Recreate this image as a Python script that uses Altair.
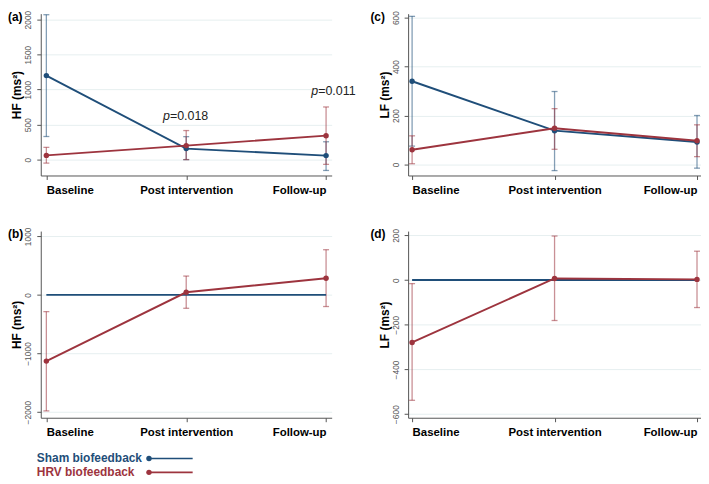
import altair as alt
import pandas as pd

stages = ["Baseline", "Post intervention", "Follow-up"]
groups = ["Sham biofeedback", "HRV biofeedback"]
colors = ["#1f4e79", "#9d343e"]

# (a) HF, ms2
a_sham = [1200, 157, 57]
a_sham_lo = [330, 0, -155]
a_sham_hi = [2070, 328, 255]
a_hrv = [60, 200, 342]
a_hrv_lo = [-50, 0, -68]
a_hrv_hi = [175, 415, 752]

# (c) LF, ms2
c_sham = [340, 138, 92]
c_sham_lo = [75, -25, -15]
c_sham_hi = [605, 298, 200]
c_hrv = [60, 148, 97]
c_hrv_lo = [3, 62, 32]
c_hrv_hi = [117, 228, 162]

# (b) HF difference vs sham
b_sham = [0, 0, 0]
b_hrv = [-1130, 45, 285]
b_hrv_lo = [-1980, -228, -198]
b_hrv_hi = [-285, 322, 772]

# (d) LF difference vs sham
d_sham = [0, 0, 0]
d_hrv = [-279, 7, 3]
d_hrv_lo = [-538, -181, -123]
d_hrv_hi = [-16, 197, 129]

p_text = ["=0.018", "=0.011"]
p_x = [0.99, 2.05]
p_y = [624, 979]

FONT = "Liberation Sans"
label_expr = "datum.value == 0 ? '%s' : datum.value == 1 ? '%s' : datum.value == 2 ? '%s' : ''" % tuple(stages)


def make_df(mean, lo=None, hi=None):
    return pd.DataFrame({
        "idx": list(range(len(stages))),
        "stage": stages,
        "mean": mean,
        "lo": lo if lo is not None else mean,
        "hi": hi if hi is not None else mean,
    })


def panel(series, y_dom, y_vals, y_title, width, height, letter, letter_dx, x_dom, extra=None):
    X = alt.X("idx:Q", scale=alt.Scale(domain=x_dom, nice=False, zero=False),
              axis=alt.Axis(values=[0, 1, 2], labelExpr=label_expr, title=None, grid=False,
                            labelFontWeight="bold", labelFontSize=11.5, labelColor="#000",
                            labelFlush=12, labelPadding=5, tickSize=4))

    def Y(field):
        return alt.Y(field, type="quantitative",
                     scale=alt.Scale(domain=y_dom, nice=False, zero=False),
                     axis=alt.Axis(values=y_vals, format="d", title=y_title, grid=True,
                                   gridColor="#e6eff0",
                                   labelAngle=270, labelAlign="center", labelBaseline="bottom",
                                   labelFontSize=8.5, labelColor="#555", labelPadding=4,
                                   tickSize=4, titleFontSize=12, titleFontWeight="bold",
                                   titleColor="#000", titlePadding=0))

    layers = []
    for (df, color, ci, pts) in series:
        base = alt.Chart(df)
        if ci:
            layers.append(base.mark_errorbar(ticks={"size": 6}, color=color, opacity=0.55, thickness=1.3)
                          .encode(x=X, y=Y("lo"), y2="hi"))
    for (df, color, ci, pts) in series:
        base = alt.Chart(df)
        layers.append(base.mark_line(color=color, strokeWidth=1.9).encode(x=X, y=Y("mean")))
        if pts:
            layers.append(base.mark_circle(color=color, size=30, opacity=1).encode(x=X, y=Y("mean")))
    layers.append(
        alt.Chart(pd.DataFrame({"t": [letter]})).mark_text(
            align="left", baseline="top", fontWeight="bold", fontSize=12, color="#000")
        .encode(x=alt.value(letter_dx), y=alt.value(-2), text="t"))
    if extra:
        layers.extend(extra)
    return alt.layer(*layers).properties(width=width, height=height)


xa = [-0.04, 2.04]
xc = [-0.028, 2.028]

# annotations for (a)
pdf = pd.DataFrame({"x": p_x, "y": p_y, "p": ["p", "p"], "rest": p_text})
Xa = alt.X("x:Q", scale=alt.Scale(domain=xa, nice=False, zero=False))
Ya = alt.Y("y:Q", scale=alt.Scale(domain=[-227, 2085], nice=False, zero=False))
ann = [
    alt.Chart(pdf).mark_text(align="right", dx=-15, fontSize=12.5, fontStyle="italic", color="#222")
    .encode(x=Xa, y=Ya, text="p"),
    alt.Chart(pdf).mark_text(align="left", dx=-15, fontSize=12.5, color="#222")
    .encode(x=Xa, y=Ya, text="rest"),
]

chart_a = panel(
    [(make_df(a_sham, a_sham_lo, a_sham_hi), colors[0], True, True),
     (make_df(a_hrv, a_hrv_lo, a_hrv_hi), colors[1], True, True)],
    [-227, 2085], [0, 500, 1000, 1500, 2000], "HF (ms²)", 293, 163, "(a)", -33, xa, ann)

chart_c = panel(
    [(make_df(c_sham, c_sham_lo, c_sham_hi), colors[0], True, True),
     (make_df(c_hrv, c_hrv_lo, c_hrv_hi), colors[1], True, True)],
    [-45, 616], [0, 200, 400, 600], "LF (ms²)", 295, 163, "(c)", -38, xc)

# legend drawn below panel (b)
legend_layers = []
leg_y = [229, 243]
for i, g in enumerate(groups):
    ldf = pd.DataFrame({"label": [g]})
    legend_layers.append(
        alt.Chart(ldf).mark_text(align="left", baseline="middle", fontWeight="bold", fontSize=12,
                                 color=colors[i])
        .encode(x=alt.value(-4), y=alt.value(leg_y[i]), text="label"))
    legend_layers.append(
        alt.Chart(ldf).mark_rule(color=colors[i], strokeWidth=1.6)
        .encode(x=alt.value(109), x2=alt.value(153), y=alt.value(leg_y[i])))
    legend_layers.append(
        alt.Chart(ldf).mark_circle(color=colors[i], size=30, opacity=1)
        .encode(x=alt.value(109), y=alt.value(leg_y[i])))

chart_b = panel(
    [(make_df(b_sham), colors[0], False, False),
     (make_df(b_hrv, b_hrv_lo, b_hrv_hi), colors[1], True, True)],
    [-2097, 1090], [-2000, -1000, 0, 1000], "HF (ms²)", 293, 188, "(b)", -33, xa, legend_layers)

chart_d = panel(
    [(make_df(d_sham), colors[0], False, False),
     (make_df(d_hrv, d_hrv_lo, d_hrv_hi), colors[1], True, True)],
    [-616, 219], [-600, -400, -200, 0, 200], "LF (ms²)", 295, 188, "(d)", -38, xc)

chart = alt.concat(chart_a, chart_c, chart_b, chart_d, columns=2,
                   spacing={"row": 56, "column": 77}, bounds="flush").properties(
    padding=0
).configure(font=FONT).configure_view(stroke=None).configure_axis(
    domainColor="#555", tickColor="#555", domainWidth=1, labelFont=FONT, titleFont=FONT
)

chart.save("out.html", embed_options={"renderer": "svg", "actions": False})
